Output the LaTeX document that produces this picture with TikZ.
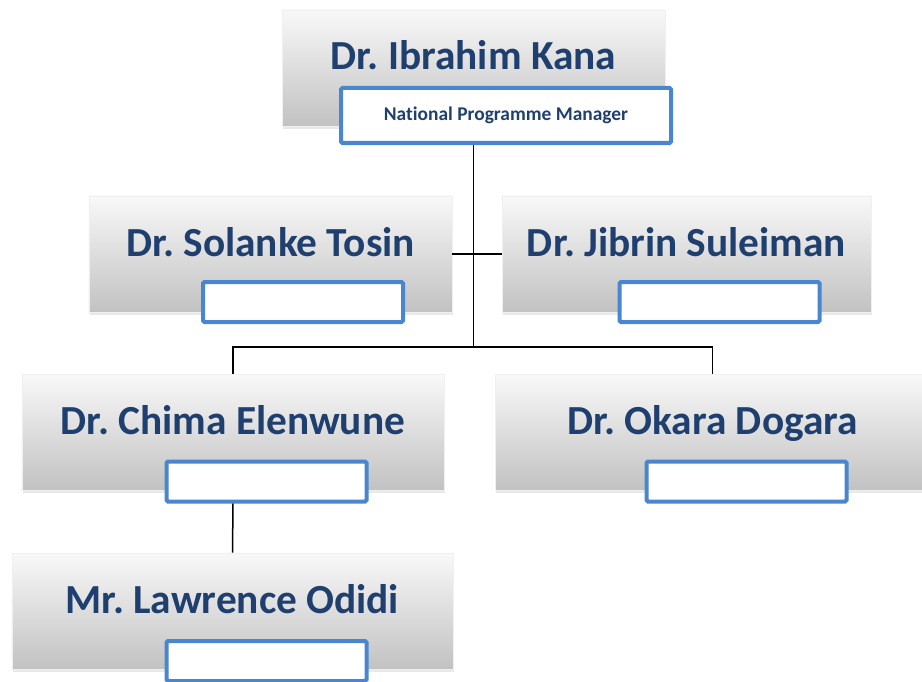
\documentclass[tikz,border=0pt]{standalone}
\usepackage{fontspec}
\setmainfont{Carlito}[Ligatures=NoCommon,Contextuals=NoAlternate]
\usetikzlibrary{shadows}
\definecolor{nameblue}{HTML}{1F3F6E}
\definecolor{rolecol}{HTML}{4A86CF}
\tikzset{
  personbox/.style={rectangle, draw=gray!12, line width=0.6bp, minimum height=116bp,
    top color=gray!5, bottom color=gray!48, inner sep=0pt,
    drop shadow={opacity=0.18, shadow xshift=1bp, shadow yshift=-3bp}},
  rolebox/.style={rectangle, draw=rolecol, line width=4bp, fill=white, rounded corners=1.5bp,
    inner sep=0pt},
  nametext/.style={anchor=base, text=nameblue, font=\fontsize{41.5}{45}\selectfont\bfseries},
  roletext/.style={anchor=base, text=nameblue, font=\fontsize{19.5}{22}\selectfont\bfseries},
  link/.style={draw=black, line width=1.5bp}
}

\begin{document}
\frenchspacing
\begin{tikzpicture}[x=1bp,y=-1bp]
\useasboundingbox (0,0) rectangle (922,682);

%boîtes des personnes : nom / centre x / haut / largeur / texte
\foreach \nm/\cx/\top/\w/\txt in {kana/473.5/10/383/Dr. Ibrahim Kana,
    tosin/270.5/196/363/Dr. Solanke Tosin,
    jibrin/686.5/196/369/Dr. Jibrin Suleiman,
    chima/233/374/422/Dr. Chima Elenwune,
    okara/712.5/374/435/Dr. Okara Dogara,
    odidi/232.5/553/441/Mr. Lawrence Odidi}{
  \node[personbox, minimum width=\w bp] (\nm) at (\cx,\top+58) {};
  \node[nametext] (\nm Name) at (\cx,\top+60) {\txt};
}

%cadres des fonctions
\node[rolebox, minimum width=330bp, minimum height=55bp] (kanaRole) at (506,115.5) {};
\node[roletext] (kanaRoleText) at (506,121) {National Programme Manager};
\node[rolebox, minimum width=200bp, minimum height=40bp] (tosinRole) at (303,302) {};
\node[rolebox, minimum width=200bp, minimum height=40bp] (jibrinRole) at (719.5,302) {};
\node[rolebox, minimum width=200bp, minimum height=40bp] (chimaRole) at (266.5,481.5) {};
\node[rolebox, minimum width=200bp, minimum height=40bp] (okaraRole) at (746.5,481.5) {};
\node[rolebox, minimum width=200bp, minimum height=40bp] (odidiRole) at (266.5,661) {};

%liaisons
\coordinate (hub) at (473.5,347);
\draw[link] (kana.center |- kanaRole.south) -- (hub);
\draw[link] (tosin.east) -- (jibrin.west);
\draw[link] (chima.north) -- (chima.north |- hub) -- (okara.north |- hub) -- (okara.north);
\draw[link] (chima.center |- chimaRole.south) -- (odidi.north);

\end{tikzpicture}
\end{document}
